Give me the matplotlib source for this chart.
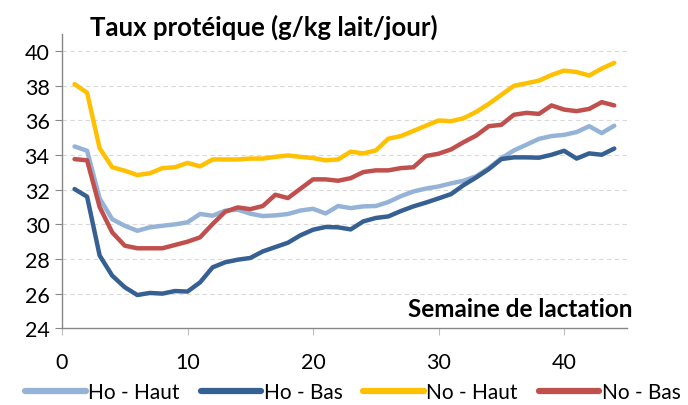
import matplotlib.pyplot as plt

plt.rcParams['font.family'] = ['Lato', 'DejaVu Sans']

weeks = list(range(1, 45))

# g/kg
ho_haut = [34.5, 34.25, 31.5, 30.3, 29.92, 29.63, 29.83, 29.92, 30.0, 30.12,
           30.6, 30.5, 30.79, 30.85, 30.62, 30.48, 30.52, 30.6, 30.8, 30.9,
           30.63, 31.06, 30.94, 31.04, 31.06, 31.29, 31.63, 31.9, 32.07, 32.19,
           32.37, 32.52, 32.78, 33.25, 33.82, 34.27, 34.6, 34.94, 35.1, 35.17,
           35.33, 35.67, 35.27, 35.7]
ho_bas = [32.04, 31.6, 28.2, 27.04, 26.37, 25.92, 26.04, 26.0, 26.15, 26.12,
          26.65, 27.52, 27.81, 27.96, 28.06, 28.44, 28.69, 28.94, 29.37, 29.69,
          29.85, 29.83, 29.71, 30.17, 30.37, 30.46, 30.77, 31.04, 31.26, 31.5,
          31.75, 32.27, 32.71, 33.19, 33.77, 33.87, 33.87, 33.85, 34.02, 34.25,
          33.8, 34.1, 34.02, 34.38]
no_haut = [38.1, 37.6, 34.4, 33.3, 33.1, 32.85, 32.95, 33.25, 33.3, 33.55,
           33.35, 33.75, 33.75, 33.75, 33.8, 33.8, 33.9, 33.98, 33.9, 33.83,
           33.7, 33.75, 34.2, 34.1, 34.27, 34.95, 35.1, 35.4, 35.7, 36.0,
           35.96, 36.13, 36.5, 36.96, 37.48, 38.0, 38.15, 38.3, 38.63, 38.88,
           38.8, 38.6, 39.0, 39.33]
no_bas = [33.77, 33.7, 31.0, 29.54, 28.77, 28.62, 28.62, 28.62, 28.81, 29.0,
          29.25, 30.02, 30.73, 30.98, 30.88, 31.06, 31.71, 31.52, 32.06, 32.6,
          32.6, 32.52, 32.67, 33.02, 33.12, 33.12, 33.25, 33.3, 33.95, 34.08,
          34.33, 34.75, 35.13, 35.67, 35.75, 36.33, 36.44, 36.38, 36.87, 36.63,
          36.54, 36.67, 37.06, 36.87]

labels = ['Ho - Haut', 'Ho - Bas', 'No - Haut', 'No - Bas']
colors = ['#95B3D7', '#376092', '#FFC000', '#C0504D']
yticks = [24, 26, 28, 30, 32, 34, 36, 38, 40]
xticks = [0, 10, 20, 30, 40]

fig = plt.figure(figsize=(6.88, 4.06), dpi=100)
ax = fig.add_axes([0.0901, 0.189, 0.821, 0.725])

for serie, lab, col in zip([ho_haut, ho_bas, no_haut, no_bas], labels, colors):
    ax.plot(weeks, serie, color=col, lw=3.2, label=lab,
            solid_joinstyle='round', solid_capstyle='round')

ax.set_xlim(0, 45)
ax.set_ylim(24, 41)
ax.set_xticks(xticks)
ax.set_yticks(yticks)
for v in yticks[1:]:
    ax.axhline(v, color='#D9D9D9', lw=0.8, ls=(0, (4, 3)), zorder=0)

for s in ['top', 'right']:
    ax.spines[s].set_visible(False)
for s in ['left', 'bottom']:
    ax.spines[s].set_color('#868686')
    ax.spines[s].set_linewidth(1.0)
ax.tick_params(axis='y', length=5, color='#868686', labelsize=15.5, pad=4)
ax.tick_params(axis='x', length=5, color='#BFBFBF', labelsize=15.5, pad=12)

fig.text(90 / 688, 1 - 27 / 406, 'Taux protéique (g/kg lait/jour)',
         fontsize=18.5, fontweight='bold', ha='left', va='center')
fig.text(632 / 688, 1 - 310 / 406, 'Semaine de lactation',
         fontsize=17.5, fontweight='bold', ha='right', va='center')

fig.legend(loc='center', bbox_to_anchor=(0.513, 1 - 393 / 406), ncol=4,
           frameon=False, fontsize=15, handlelength=2.9, handletextpad=0.12,
           columnspacing=1.0, borderaxespad=0)
for line in fig.legends[0].get_lines():
    line.set_linewidth(4.5)

fig.savefig('out.png', dpi=100)
